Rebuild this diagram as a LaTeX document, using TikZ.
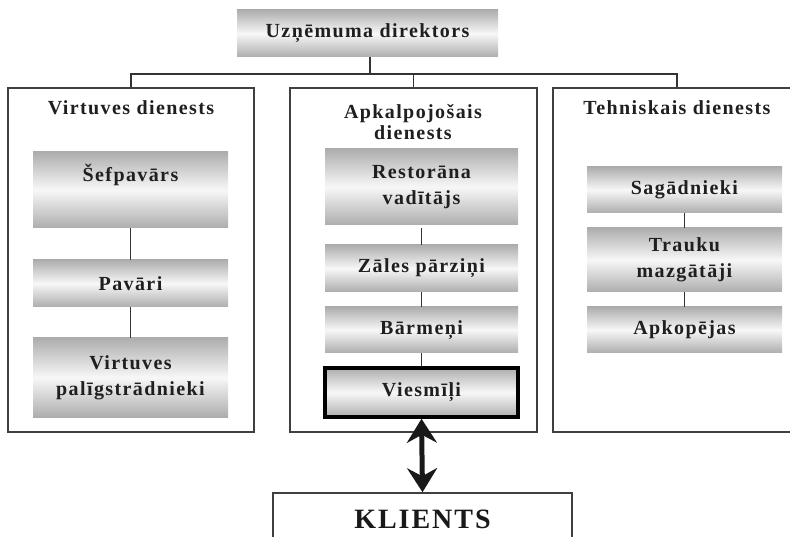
\documentclass[tikz,border=0pt]{standalone}
\usepackage{fontspec}
\setmainfont{Liberation Serif}[LetterSpace=7]
\usetikzlibrary{arrows.meta}
\begin{document}
\begin{tikzpicture}[x=1pt,y=-1pt,
  every node/.style={font=\fontsize{20}{26}\selectfont\bfseries, text=black!88, align=center, inner sep=0pt},
  shbox/.style={rectangle, top color=black!32, bottom color=black!32, middle color=black!3, draw=none, minimum width=#1},
  shbox/.default=195pt,
  panel/.style={draw=black!75, line width=1.6pt},
  conn/.style={draw=black!80, line width=1.6pt},
  ttl/.style={font=\fontsize{20}{21}\selectfont\bfseries}
]
\useasboundingbox (0,0) rectangle (790,537);

% director
\node[shbox=261pt, minimum height=47pt] (dir) at (367.5,33.5) {Uzņēmuma direktors};

% panels
\node[panel, rectangle, minimum width=246pt, minimum height=344pt] (lp) at (131,260) {};
\node[panel, rectangle, minimum width=247pt, minimum height=344pt] (mp) at (413.5,260) {};
\node[panel, rectangle, minimum width=248pt, minimum height=344pt] (rp) at (677,260) {};

\node[ttl] (lt) at (131,108) {Virtuves dienests};
\node[ttl] (mt) at (413,122) {Apkalpojošais\\dienests};
\node[ttl] (rt) at (677,108) {Tehniskais dienests};

% connectors from director
\coordinate (j) at (370,74);
\draw[conn] (dir.south -| j) -- (j);
\draw[conn] (lp.north) |- (j) -| (rp.north);
\draw[conn] (j -| mp.north) -- (mp.north);

% left column
\node[shbox, minimum height=76pt, text depth=34pt] (sef) at (130.5,190) {Šefpavārs};
\node[shbox, minimum height=47pt] (pav) at (130.5,283.5) {Pavāri};
\node[shbox, minimum height=79pt] (vpal) at (130.5,377.5) {Virtuves\\palīgstrādnieki};
\draw[conn] (sef) -- (pav);
\draw[conn] (pav) -- (vpal);

% middle column
\node[shbox=193pt, minimum height=76pt] (rest) at (421.5,187) {Restorāna\\vadītājs};
\node[shbox=193pt, minimum height=47pt] (zal) at (421.5,268.5) {Zāles pārziņi};
\node[shbox=193pt, minimum height=46pt] (bar) at (421.5,330) {Bārmeņi};
\node[shbox=193pt, minimum height=49pt, draw=black, line width=3.5pt] (vies) at (421.5,392.5) {Viesmīļi};
\draw[conn] (rest.south |- 0,228) -- (zal);
\draw[conn] (zal) -- (bar);
\draw[conn] (bar) -- (vies);

% right column
\node[shbox, minimum height=46pt] (sag) at (684.5,190) {Sagādnieki};
\node[shbox, minimum height=64pt] (tra) at (684.5,260) {Trauku\\mazgātāji};
\node[shbox, minimum height=46pt] (apk) at (684.5,330) {Apkopējas};
\draw[conn] (sag) -- (tra);
\draw[conn] (tra) -- (apk);

% client
\node[draw=black!75, line width=1.6pt, rectangle, minimum width=299pt, minimum height=52pt,
  font=\fontsize{28}{30}\selectfont\bfseries, text=black!90] (kl) at (422.5,519) {KLIENTS};
\draw[line width=5pt, black!90, {Stealth[width=30pt,length=24pt,inset=8pt]}-{Stealth[width=30pt,length=24pt,inset=8pt]}]
  (vies.south) -- (kl.north);
\end{tikzpicture}
\end{document}
